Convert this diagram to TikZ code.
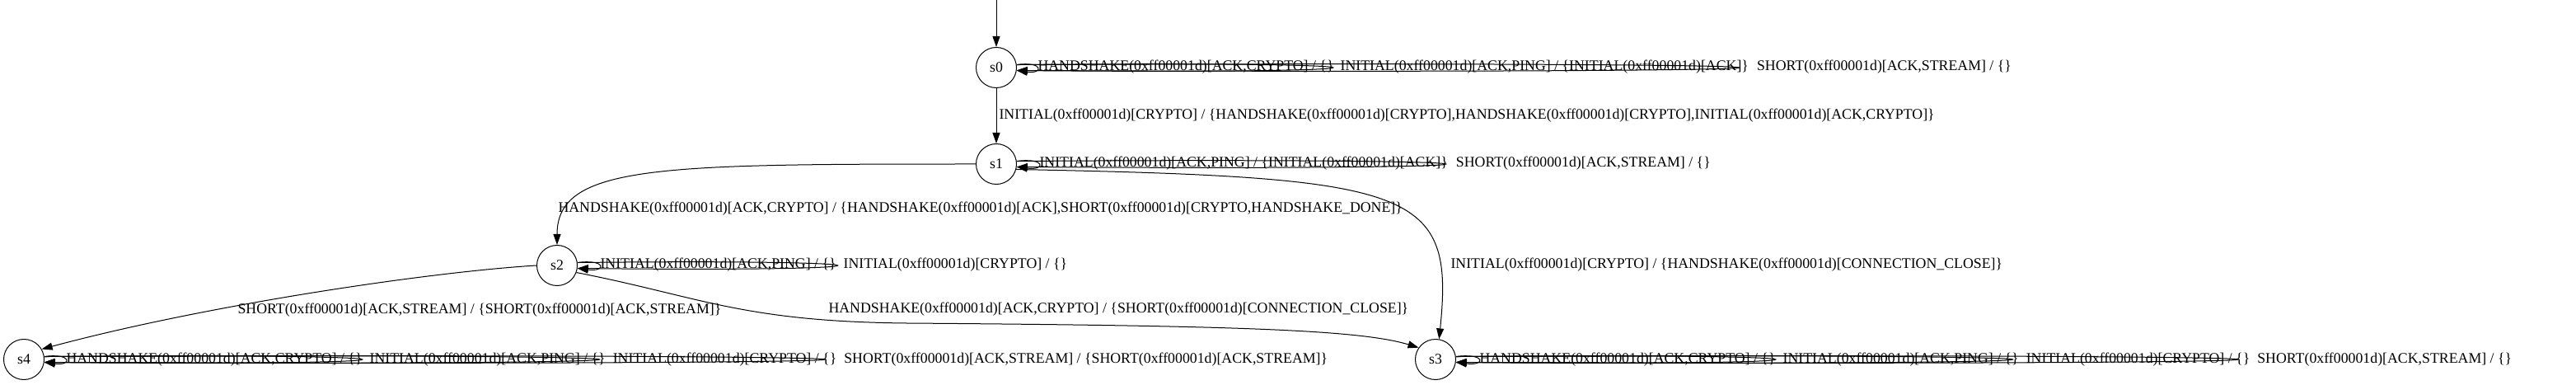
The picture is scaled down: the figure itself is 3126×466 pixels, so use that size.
\documentclass[tikz,border=0pt]{standalone}
\usepackage{fontspec}
\setmainfont{Liberation Serif}
\usetikzlibrary{automata, positioning, arrows.meta, calc}
\tikzset{
->, % every connector is directed
>={Triangle[length=13pt,width=9pt]}, % filled heads as dot draws them
every state/.style={draw, circle, minimum size=49pt, inner sep=0pt, font=\fontsize{17.8}{20}\selectfont}, % the five states
lbl/.style={inner sep=0pt, text height=12pt, text depth=4pt, font=\fontsize{17.8}{20}\selectfont}, % transition texts
selfloop/.style={to path={(\tikztostart.8) .. controls ($(\tikztostart.east)!1.3!(\tikztotarget.west)+(0,8)$) and ($(\tikztostart.east)!1.3!(\tikztotarget.west)+(0,-8)$) .. (\tikztostart.-8)}}, % loop stretched up to its text
}

\begin{document}
\begin{tikzpicture}[x=1pt, y=1pt, line width=1pt]
    \useasboundingbox (0,0) rectangle (3126,466);
    \node[state] (s0) at (1209,384) {s0};
    \node[state] (s1) at (1209,267) {s1};
    \node[state] (s2) at (676,144) {s2};
    \node[state] (s3) at (1742,30) {s3};
    \node[state] (s4) at (29,30) {s4};
    \coordinate (init) at (1209,466);

    % texts of the self loops
    \node[lbl, right=25pt of s0] (s0a) {HANDSHAKE(0xff00001d)[ACK,CRYPTO] / \{\}};
    \node[lbl, right=7pt of s0a] (s0b) {INITIAL(0xff00001d)[ACK,PING] / \{INITIAL(0xff00001d)[ACK]\}};
    \node[lbl, right=9pt of s0b] (s0c) {SHORT(0xff00001d)[ACK,STREAM] / \{\}};
    \node[lbl, right=27pt of s1] (s1a) {INITIAL(0xff00001d)[ACK,PING] / \{INITIAL(0xff00001d)[ACK]\}};
    \node[lbl, right=9pt of s1a] (s1b) {SHORT(0xff00001d)[ACK,STREAM] / \{\}};
    \node[lbl, right=27pt of s2] (s2a) {INITIAL(0xff00001d)[ACK,PING] / \{\}};
    \node[lbl, right=8pt of s2a] (s2b) {INITIAL(0xff00001d)[CRYPTO] / \{\}};
    \node[lbl, right=28pt of s3] (s3a) {HANDSHAKE(0xff00001d)[ACK,CRYPTO] / \{\}};
    \node[lbl, right=8pt of s3a] (s3b) {INITIAL(0xff00001d)[ACK,PING] / \{\}};
    \node[lbl, right=8pt of s3b] (s3c) {INITIAL(0xff00001d)[CRYPTO] / \{\}};
    \node[lbl, right=8pt of s3c] (s3d) {SHORT(0xff00001d)[ACK,STREAM] / \{\}};
    \node[lbl, right=26pt of s4] (s4a) {HANDSHAKE(0xff00001d)[ACK,CRYPTO] / \{\}};
    \node[lbl, right=8pt of s4a] (s4b) {INITIAL(0xff00001d)[ACK,PING] / \{\}};
    \node[lbl, right=8pt of s4b] (s4c) {INITIAL(0xff00001d)[CRYPTO] / \{\}};
    \node[lbl, right=8pt of s4c] (s4d) {SHORT(0xff00001d)[ACK,STREAM] / \{SHORT(0xff00001d)[ACK,STREAM]\}};

    % texts of the other transitions
    \node[lbl, anchor=west] (t12) at (677,212) {HANDSHAKE(0xff00001d)[ACK,CRYPTO] / \{HANDSHAKE(0xff00001d)[ACK],SHORT(0xff00001d)[CRYPTO,HANDSHAKE\_DONE]\}};
    \node[lbl, anchor=west] (t13) at (1760,144) {INITIAL(0xff00001d)[CRYPTO] / \{HANDSHAKE(0xff00001d)[CONNECTION\_CLOSE]\}};
    \node[lbl, anchor=west] (t24) at (288,89) {SHORT(0xff00001d)[ACK,STREAM] / \{SHORT(0xff00001d)[ACK,STREAM]\}};
    \node[lbl, anchor=west] (t23) at (1005,90) {HANDSHAKE(0xff00001d)[ACK,CRYPTO] / \{SHORT(0xff00001d)[CONNECTION\_CLOSE]\}};

    \draw (init) -- (s0);
    \draw (s0) -- node[lbl, right=3pt] (t01) {INITIAL(0xff00001d)[CRYPTO] / \{HANDSHAKE(0xff00001d)[CRYPTO],HANDSHAKE(0xff00001d)[CRYPTO],INITIAL(0xff00001d)[ACK,CRYPTO]\}} (s1);
    \draw (s1.west) .. controls +(-384,0) and +(0,97) .. (s2.north);
    \draw (s1.-15) .. controls (1720,251) and (1765,236) .. (s3.80);
    \draw (s2.west) .. controls (520,136) and (250,96) .. (s4.30);
    \draw (s2.-20) .. controls (850,106) and (900,76) .. (1100,74) .. controls (1500,71) and (1650,66) .. (s3.145);
    \draw
    (s0) edge[selfloop] (s0a) (s0) edge[selfloop] (s0b) (s0) edge[selfloop] (s0c)
    (s1) edge[selfloop] (s1a) (s1) edge[selfloop] (s1b)
    (s2) edge[selfloop] (s2a) (s2) edge[selfloop] (s2b)
    (s3) edge[selfloop] (s3a) (s3) edge[selfloop] (s3b) (s3) edge[selfloop] (s3c) (s3) edge[selfloop] (s3d)
    (s4) edge[selfloop] (s4a) (s4) edge[selfloop] (s4b) (s4) edge[selfloop] (s4c) (s4) edge[selfloop] (s4d);
\end{tikzpicture}
\end{document}
